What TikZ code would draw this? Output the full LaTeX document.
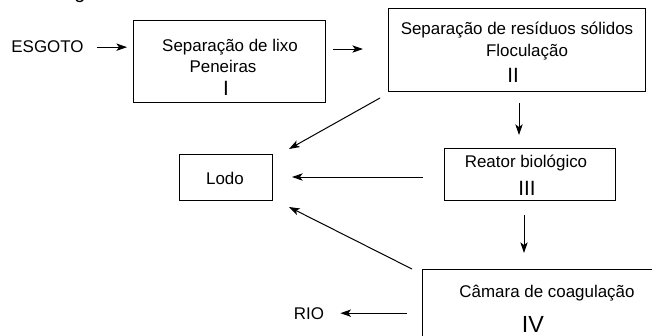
\documentclass[tikz,border=0pt]{standalone}
\usepackage{fontspec}
\setmainfont{Liberation Sans}
\usetikzlibrary{arrows.meta,calc}
\tikzset{
  box/.style={draw, line width=0.75pt, outer sep=0pt, inner sep=0pt},
  lbl/.style={inner sep=0pt, anchor=base, font=\fontsize{12.7}{15}\selectfont},
  num/.style={inner sep=0pt, anchor=base, font=\fontsize{15.5}{18}\selectfont},
  bignum/.style={inner sep=0pt, anchor=base, font=\fontsize{17.5}{20}\selectfont},
  arr/.style={draw, line width=0.75pt, -{Stealth[length=8pt,width=5.5pt,inset=2pt]}}
}
\begin{document}
\begin{tikzpicture}[x=0.75pt,y=-0.75pt]
\useasboundingbox (0,0) rectangle (652,335);
\clip (0,0) rectangle (652,335);
% cropped title fragment
\node[inner sep=0pt, anchor=base, font=\fontsize{15}{18}\selectfont] (title) at (80,-1.8) {g};
% boxes
\node[box, minimum width=144pt, minimum height=60.75pt] (A) at (229,61.5) {};
\node[box, minimum width=192.75pt, minimum height=61.5pt] (B) at (516.5,50) {};
\node[box, minimum width=69.75pt, minimum height=34.5pt] (L) at (225.5,177) {};
\node[box, minimum width=128.25pt, minimum height=39pt] (R) at (529.5,174) {};
\node[box, minimum width=195pt, minimum height=60.75pt] (C) at (552,309.5) {};
% texts
\node[lbl] (esg) at (47.5,53) {ESGOTO};
\node[lbl] (a1) at (230,51) {Separação de lixo};
\node[lbl] (a2) at (223,73) {Peneiras};
\node[num] (a3) at (226,95) {I};
\node[lbl] (b1) at (517,35) {Separação de resíduos sólidos};
\node[lbl] (b2) at (527,56) {Floculação};
\node[num] (b3) at (513,83) {II};
\node[lbl] (lodo) at (225,184) {Lodo};
\node[lbl] (r1) at (526,167) {Reator biológico};
\node[num] (r2) at (527,195) {III};
\node[lbl] (c1) at (547,297) {Câmara de coagulação};
\node[bignum] (c2) at (533,332) {IV};
\node[lbl] (rio) at (309,319) {RIO};
% helper coordinates on box borders
\coordinate (ae) at ($(A.north east)!0.346!(A.south east)$);
\coordinate (bs) at ($(B.south)+(2.5,0)$);
\coordinate (rs) at ($(R.south)+(-5.5,0)$);
% connectors
\draw[arr, shorten <=9.75pt, shorten >=4.5pt] (esg.east) -- (esg.east -| A.west);
\draw[arr, shorten <=6pt, shorten >=18.75pt] (ae) -- (ae -| B.west);
\draw[arr] ($(B.south west)+(-8,7)$) -- ($(L.north east)+(17,-5)$);
\draw[arr, shorten <=9pt, shorten >=9.75pt] (bs) -- (bs |- R.north);
\draw[arr, shorten <=15.75pt, shorten >=15pt] (R.west |- L.east) -- (L.east);
\draw[arr, shorten <=11.25pt, shorten >=12pt] (rs) -- (rs |- C.north);
\draw[arr] ($(C.north west)+(-10,0)$) -- ($(L.south east)+(17,7)$);
\draw[arr, shorten <=11.25pt, shorten >=12pt] (C.west |- rio.east) -- (rio.east);
\end{tikzpicture}
\end{document}
